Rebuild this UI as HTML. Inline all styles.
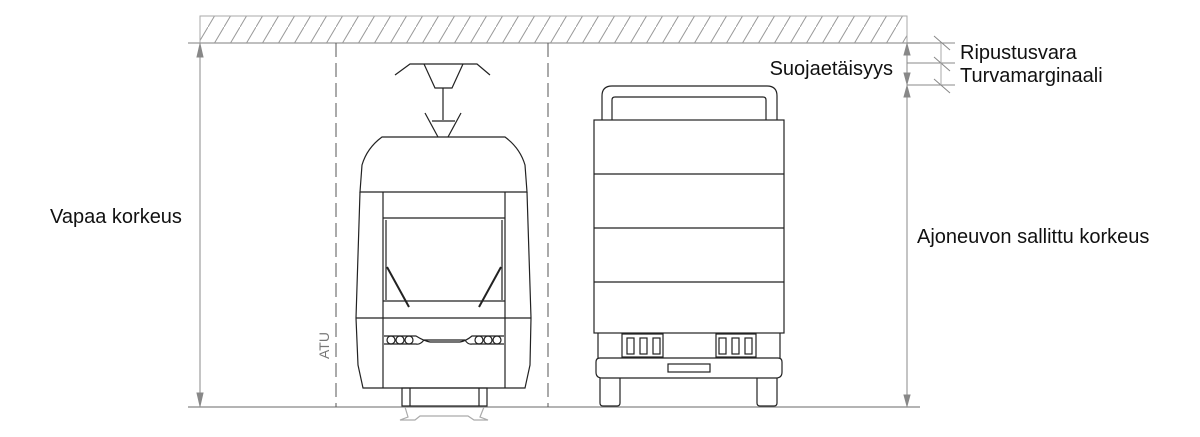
<!DOCTYPE html>
<html><head><meta charset="utf-8"><style>
html,body{margin:0;padding:0;background:#fff;}
svg{display:block;}
text{font-family:"Liberation Sans",sans-serif;fill:#111;}
</style></head><body>
<svg width="1200" height="437" viewBox="0 0 1200 437" xmlns="http://www.w3.org/2000/svg">
<defs>
<pattern id="h" width="16" height="27" patternUnits="userSpaceOnUse">
<line x1="0" y1="27" x2="16" y2="0" stroke="#999" stroke-width="1"/>
</pattern>
</defs>
<rect x="200" y="16" width="707" height="27" fill="url(#h)" stroke="#aaa" stroke-width="1"/>
<line x1="188" y1="43" x2="920" y2="43" stroke="#999" stroke-width="1.2"/>
<line x1="188" y1="407" x2="920" y2="407" stroke="#888" stroke-width="1.2"/>
<g stroke="#888" fill="#888">
<line x1="200" y1="43" x2="200" y2="407"/>
<polygon points="200,44 197,57 203,57"/>
<polygon points="200,406 197,393 203,393"/>
<line x1="907" y1="43" x2="907" y2="407"/>
<line x1="907" y1="63" x2="955" y2="63"/>
<line x1="907" y1="85" x2="955" y2="85"/>
<line x1="907" y1="43" x2="955" y2="43"/>
<polygon points="907,44 904,55 910,55"/>
<polygon points="907,84 904,73 910,73"/>
<polygon points="907,86 904,97 910,97"/>
<polygon points="907,406 904,395 910,395"/>
<line x1="934" y1="36" x2="950" y2="50"/>
<line x1="934" y1="57" x2="950" y2="71"/>
<line x1="934" y1="79" x2="950" y2="93"/>
<line x1="941" y1="43" x2="941" y2="85" stroke="#aaa"/>
</g>
<g stroke="#555" stroke-width="1" stroke-dasharray="14,6">
<line x1="336" y1="43" x2="336" y2="407"/>
<line x1="548" y1="43" x2="548" y2="407"/>
</g>
<g stroke="#222" stroke-width="1.2" fill="none">
<polyline points="395,75 410,64 477,64 490,75"/>
<polyline points="424,64 435,88 452,88 463,64"/>
<line x1="443" y1="88" x2="443" y2="120"/>
<line x1="425" y1="113" x2="438" y2="137"/>
<line x1="461" y1="113" x2="448" y2="137"/>
<line x1="432" y1="121" x2="455" y2="121"/>
<path d="M382,137 L505,137 Q520,148 525,165 L527,192 L360,192 L362,165 Q367,148 382,137 Z"/>
<path d="M360,192 L356,318 L358,365 L363,388 L525,388 L530,365 L531,318 L527,192"/>
<line x1="356" y1="318" x2="531" y2="318"/>
<line x1="383" y1="192" x2="383" y2="388"/>
<line x1="505" y1="192" x2="505" y2="388"/>
<line x1="383" y1="218" x2="505" y2="218"/>
<line x1="383" y1="301" x2="505" y2="301"/>
<line x1="386" y1="220" x2="386" y2="300"/>
<line x1="502" y1="220" x2="502" y2="300"/>
<line x1="387" y1="267" x2="409" y2="307" stroke-width="2"/>
<line x1="501" y1="267" x2="479" y2="307" stroke-width="2"/>
<path d="M384,344 L416,344 Q420,345 424,340 L465,340 Q468,345 472,344 L504,344 M384,336 L416,336 Q424,341 430,342 L460,342 Q466,341 472,336 L504,336"/>
<circle cx="391" cy="340" r="4"/><circle cx="400" cy="340" r="4"/><circle cx="409" cy="340" r="4"/>
<circle cx="479" cy="340" r="4"/><circle cx="488" cy="340" r="4"/><circle cx="497" cy="340" r="4"/>
<rect x="402" y="388" width="85" height="18"/>
<line x1="410" y1="388" x2="410" y2="406"/>
<line x1="479" y1="388" x2="479" y2="406"/>
<path d="M405,407 L408,417 L400,420 L415,420 L420,416 L468,416 L474,420 L488,420 L480,417 L484,407" stroke="#aaa"/>
</g>
<g stroke="#222" stroke-width="1.2" fill="none">
<path d="M602,120 L602,96 Q602,86 612,86 L767,86 Q777,86 777,96 L777,120"/>
<path d="M612,120 L612,100 Q612,97 615,97 L763,97 Q766,97 766,100 L766,120"/>
<rect x="594" y="120" width="190" height="213"/>
<line x1="594" y1="174" x2="784" y2="174"/>
<line x1="594" y1="228" x2="784" y2="228"/>
<line x1="594" y1="282" x2="784" y2="282"/>
<line x1="598" y1="333" x2="598" y2="358"/>
<line x1="780" y1="333" x2="780" y2="358"/>
<rect x="622" y="334" width="41" height="23"/>
<rect x="716" y="334" width="40" height="23"/>
<rect x="627" y="338" width="7" height="16"/><rect x="640" y="338" width="7" height="16"/><rect x="653" y="338" width="7" height="16"/>
<rect x="719" y="338" width="7" height="16"/><rect x="732" y="338" width="7" height="16"/><rect x="745" y="338" width="7" height="16"/>
<path d="M600,358 L778,358 Q782,358 782,362 L782,372 Q782,378 776,378 L602,378 Q596,378 596,372 L596,362 Q596,358 600,358 Z"/>
<rect x="668" y="364" width="42" height="8"/>
<path d="M600,378 L600,403 Q600,406 603,406 L617,406 Q620,406 620,403 L620,378"/>
<path d="M757,378 L757,403 Q757,406 760,406 L774,406 Q777,406 777,403 L777,378"/>
</g>
<text x="50" y="223" font-size="20">Vapaa korkeus</text>
<text x="917" y="243" font-size="20">Ajoneuvon sallittu korkeus</text>
<text x="893" y="75" font-size="20" text-anchor="end">Suojaetäisyys</text>
<text x="960" y="59" font-size="20">Ripustusvara</text>
<text x="960" y="82" font-size="20">Turvamarginaali</text>
<text x="0" y="0" font-size="14" style="fill:#777" transform="translate(329,359) rotate(-90)">ATU</text>
</svg>
</body></html>
